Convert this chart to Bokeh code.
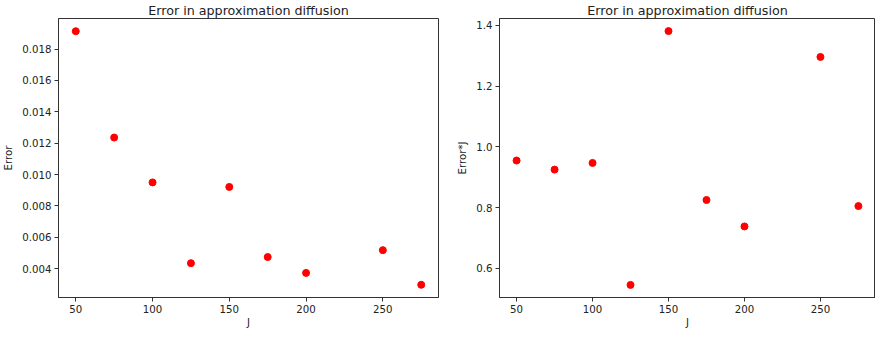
from bokeh.plotting import figure
from bokeh.layouts import row
from bokeh.models import Range1d, FixedTicker, PrintfTickFormatter, Title
from bokeh.embed import file_html
from bokeh.resources import INLINE

J = [50, 75, 100, 125, 150, 175, 200, 250, 275]
error = [0.01914, 0.01236, 0.0095, 0.00435, 0.00921, 0.00474, 0.00373, 0.00518, 0.00297]
error_j = [0.955, 0.925, 0.947, 0.5455, 1.381, 0.825, 0.738, 1.296, 0.805]
x_ticks = [50, 100, 150, 200, 250]
left_ticks = [0.004, 0.006, 0.008, 0.010, 0.012, 0.014, 0.016, 0.018]
right_ticks = [0.6, 0.8, 1.0, 1.2, 1.4]

FONT = "DejaVu Sans"
TXT = "#222222"
LINE = "#333333"


def make(yvals, yrange, yticks, yfmt, ylabel, width, mbl, mbr):
    p = figure(width=width, height=330, output_backend="svg", toolbar_location=None,
               x_range=Range1d(38.75, 286.25), y_range=Range1d(*yrange),
               min_border_left=mbl, min_border_right=mbr, min_border_top=14, min_border_bottom=32)
    p.add_layout(Title(text="Error in approximation diffusion", align="center",
                       text_font=FONT, text_font_size="12.7px", text_font_style="normal",
                       text_color=TXT, standoff=1, offset=0), "above")
    p.scatter(J, yvals, size=7, fill_color="red", line_color="red")
    p.xgrid.visible = False
    p.ygrid.visible = False
    p.outline_line_color = LINE
    p.outline_line_width = 1
    p.outline_line_alpha = 1
    p.background_fill_color = "white"
    p.border_fill_color = "white"
    p.xaxis.ticker = FixedTicker(ticks=x_ticks)
    p.xaxis.formatter = PrintfTickFormatter(format="%d")
    p.yaxis.ticker = FixedTicker(ticks=yticks)
    p.yaxis.formatter = PrintfTickFormatter(format=yfmt)
    p.xaxis.axis_label = "J"
    p.yaxis.axis_label = ylabel
    for ax in (p.xaxis[0], p.yaxis[0]):
        ax.axis_line_color = LINE
        ax.major_tick_line_color = LINE
        ax.major_tick_in = 0
        ax.major_tick_out = 4
        ax.minor_tick_line_color = None
        ax.major_label_text_font = FONT
        ax.major_label_text_font_size = "10.2px"
        ax.major_label_text_color = TXT
        ax.major_label_standoff = 3
        ax.axis_label_text_font = FONT
        ax.axis_label_text_font_size = "10.2px"
        ax.axis_label_text_font_style = "normal"
        ax.axis_label_text_color = TXT
        ax.axis_label_standoff = 5
    p.xaxis[0].axis_label_standoff = 1
    return p


p1 = make(error, (0.00216, 0.01995), left_ticks, "%.3f", "Error", 454, 54, 16)
p2 = make(error_j, (0.504, 1.4225), right_ticks, "%.1f", "Error*J", 421, 40, 0)

layout = row(p1, p2)
open("out.html", "w").write(file_html(layout, INLINE))
